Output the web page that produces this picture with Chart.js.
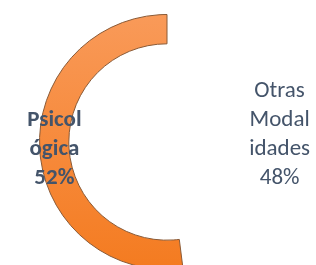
<!DOCTYPE html>
<html>
<head>
<meta charset="utf-8">
<script src="https://cdn.jsdelivr.net/npm/chart.js@4"></script>
<style>
  html, body { margin: 0; padding: 0; background: #fff; overflow: hidden; width: 316px; height: 265px; }
  #wrap { position: absolute; left: 0; top: 0; width: 316px; height: 290px; }
</style>
</head>
<body>
<div id="wrap"><canvas id="chart" width="316" height="290"></canvas></div>
<script>
// ── 데이터 ──────────────────────────────────────────
const labels     = ['Otras Modalidades', 'Psicológica'];
const values     = [48, 52];
const labelLines = [['Otras', 'Modal', 'idades', '48%'], ['Psicol', 'ógica', '52%']];
const labelBold  = [false, true];

const TEXT_COLOR = '#44546A';

// 슬라이스 안쪽 라벨 (링 중간 위치)
const ringLabels = {
  id: 'ringLabels',
  afterDatasetsDraw(chart) {
    const ctx = chart.ctx;
    const meta = chart.getDatasetMeta(0);
    ctx.save();
    ctx.fillStyle = TEXT_COLOR;
    ctx.textAlign = 'center';
    ctx.textBaseline = 'middle';
    meta.data.forEach((arc, i) => {
      const pos = arc.tooltipPosition();
      const lines = labelLines[i];
      const lh = 29;
      ctx.font = (labelBold[i] ? 'bold ' : '') + '23px Carlito, Lato, sans-serif';
      const y0 = pos.y - (lines.length - 1) * lh / 2;
      lines.forEach((t, k) => ctx.fillText(t, pos.x, y0 + k * lh));
    });
    ctx.restore();
  }
};

function orangeFill(c) {
  const area = c.chart.chartArea;
  if (!area) return '#F68A3A';
  if (c.dataIndex === 0) return 'rgba(0,0,0,0)';
  const g = c.chart.ctx.createLinearGradient(0, area.top, 0, area.bottom);
  g.addColorStop(0, '#F99A59');
  g.addColorStop(1, '#F47B20');
  return g;
}

new Chart(document.getElementById('chart'), {
  type: 'doughnut',
  data: {
    labels: labels,
    datasets: [{
      data: values,
      backgroundColor: orangeFill,
      borderColor: ['rgba(0,0,0,0)', '#8A5A36'],
      borderWidth: [0, 1],
    }],
  },
  options: {
    responsive: false,
    animation: false,
    cutout: '77%',
    layout: { padding: { left: 39, right: 21, top: 14, bottom: 20 } },
    plugins: {
      legend: { display: false },
      tooltip: { enabled: false },
    },
  },
  plugins: [ringLabels],
});
</script>
</body>
</html>
